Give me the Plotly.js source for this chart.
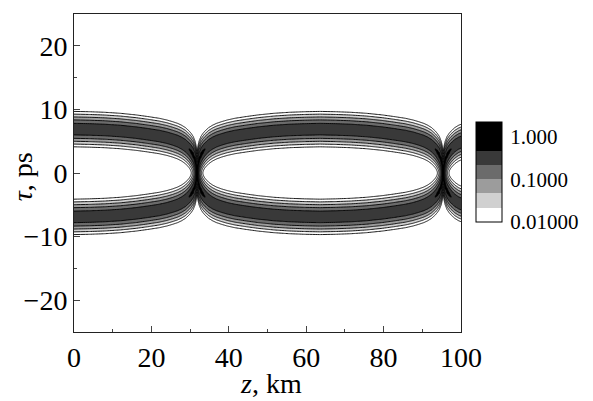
<!DOCTYPE html>
<html><head><meta charset="utf-8">
<script src="https://cdn.plot.ly/plotly-3.0.1.min.js"></script>
<style>html,body{margin:0;padding:0;background:#fff;}#chart{width:593px;height:401px;}</style>
</head><body><div id="chart"></div>
<script>
// Distance along fibre (km) at which the pulse centres were read
const zKm = [0, 4, 8, 12, 16, 19, 22, 24, 25.5, 26.8, 27.8, 28.8, 29.8, 30.3, 30.8, 31.3, 31.55, 31.8,
  32.05, 32.3, 32.8, 33.3, 33.8, 34.8, 35.8, 36.8, 38.1, 39.6, 41.6, 44.6, 47.6, 51.6, 55.6, 59.6, 63.6,
  67.6, 71.6, 75.6, 79.6, 82.6, 85.6, 87.6, 89.1, 90.4, 91.4, 92.4, 93.4, 93.9, 94.4, 94.9, 95.15, 95.4,
  95.65, 95.9, 96.4, 96.9, 97.4, 98.4, 99.4, 100];
// Pulse centre |tau| (ps)
const tauCenter = [6.9, 6.85, 6.76, 6.6, 6.35, 6.1, 5.82, 5.55, 5.28, 5.0, 4.7, 4.3, 3.7, 3.3, 2.8, 2.0, 1.3, 0,
  1.3, 2.0, 2.8, 3.3, 3.7, 4.3, 4.7, 5.0, 5.28, 5.55, 5.82, 6.1, 6.35, 6.6, 6.76, 6.85, 6.9,
  6.85, 6.76, 6.6, 6.35, 6.1, 5.82, 5.55, 5.28, 5.0, 4.7, 4.3, 3.7, 3.3, 2.8, 2.0, 1.3, 0,
  1.3, 2.0, 2.8, 3.3, 3.7, 4.3, 4.7, 4.85];
// Peak intensity of each pulse (estimated from the grey bands)
const peakIntensity = [0.4, 0.4, 0.4, 0.4, 0.4, 0.4, 0.4, 0.4, 0.4, 0.41, 0.42, 0.44, 0.47, 0.5, 0.54, 0.58, 0.6, 0.62,
  0.6, 0.58, 0.54, 0.5, 0.47, 0.44, 0.42, 0.41, 0.4, 0.4, 0.4, 0.4, 0.4, 0.4, 0.4, 0.4, 0.4,
  0.4, 0.4, 0.4, 0.4, 0.4, 0.4, 0.4, 0.4, 0.41, 0.42, 0.44, 0.47, 0.5, 0.54, 0.58, 0.6, 0.62,
  0.6, 0.58, 0.54, 0.5, 0.47, 0.44, 0.42, 0.415];
const pulseWidthPs = 1.1;

const colorbarTickVals = [-2, -1, 0];
const colorbarTickText = ['0.01000', '0.1000', '1.000'];
const greys = ['#ffffff', '#d0d0d0', '#9c9c9c', '#6b6b6b', '#393939', '#000000'];
const xTitle = '<i>z</i>, km';
const yTitle = '<i>τ</i>, ps';

// tau grid
const tau = [];
for (let i = 0; i <= 500; i++) tau.push(-25 + i * 0.1);
const field = tau.map(t => zKm.map((z, j) => {
  const q = tauCenter[j], P = peakIntensity[j];
  const s1 = 1 / Math.cosh((t - q) / pulseWidthPs), s2 = 1 / Math.cosh((t + q) / pulseWidthPs);
  const I = P * (s1 * s1 + s2 * s2);
  return Math.max(Math.log10(I), -8);
}));

const cStart = -2, cSize = 1 / 3, cEnd = 0.34;
const nc = Math.floor((cEnd - cStart) / cSize) + 1;
const dLo = cStart - cSize / 2, dHi = cStart + (nc - 0.5) * cSize;
const f = v => (v - dLo) / (dHi - dLo);
const bounds = [-5 / 3, -4 / 3, -1, -2 / 3, -1 / 3];
function stepScale(fn) {
  const s = [[0, greys[0]]];
  bounds.forEach((b, i) => { s.push([fn(b), greys[i]]); s.push([fn(b), greys[i + 1]]); });
  s.push([1, greys[5]]);
  return s;
}
const contourScale = stepScale(f);
const cbMin = -2, cbMax = 1 / 3;
const barScale = stepScale(v => (v - cbMin) / (cbMax - cbMin));

const font = 'Liberation Serif, Times New Roman, serif';
const traces = [
  {
    type: 'contour', x: zKm, y: tau, z: field,
    contours: {start: cStart, end: cEnd, size: cSize, coloring: 'fill', showlines: true},
    line: {color: '#000', width: 0.9, smoothing: 0},
    colorscale: contourScale, showscale: false, hoverinfo: 'skip'
  },
  {
    type: 'heatmap', x: [200, 201], y: [100, 101], z: [[cbMin, cbMax], [cbMin, cbMax]],
    zmin: cbMin, zmax: cbMax, colorscale: barScale, showscale: true, hoverinfo: 'skip',
    colorbar: {
      x: 1.0388, xanchor: 'left', y: 0.503, yanchor: 'middle',
      thickness: 26, thicknessmode: 'pixels', len: 100, lenmode: 'pixels',
      outlinewidth: 1, outlinecolor: '#000', borderwidth: 0, xpad: 0, ypad: 0,
      tickvals: colorbarTickVals, ticktext: colorbarTickText,
      ticks: 'outside', ticklen: 4, tickcolor: 'rgba(0,0,0,0)',
      tickfont: {family: font, size: 21, color: '#000'}
    }
  }
];

const layout = {
  width: 593, height: 401,
  margin: {l: 74, r: 132, t: 14, b: 69},
  paper_bgcolor: '#fff', plot_bgcolor: '#fff',
  font: {family: font, color: '#000'},
  showlegend: false,
  xaxis: {
    range: [0, 100], tickmode: 'linear', tick0: 0, dtick: 20,
    ticks: 'inside', ticklen: 6, tickwidth: 1, tickcolor: '#444',
    minor: {dtick: 10, ticks: 'inside', ticklen: 3, tickwidth: 1, tickcolor: '#444'},
    showline: true, linecolor: '#222', linewidth: 1, mirror: true,
    showgrid: false, zeroline: false,
    tickfont: {family: font, size: 28, color: '#000'}
  },
  yaxis: {
    range: [-25, 25], tickmode: 'linear', tick0: 0, dtick: 10,
    ticks: 'inside', ticklen: 6, tickwidth: 1, tickcolor: '#444',
    minor: {dtick: 5, ticks: 'inside', ticklen: 3, tickwidth: 1, tickcolor: '#444'},
    showline: true, linecolor: '#222', linewidth: 1, mirror: true,
    showgrid: false, zeroline: false,
    tickfont: {family: font, size: 28, color: '#000'}
  },
  annotations: [
    {text: xTitle, xref: 'paper', yref: 'paper', x: 0.509, y: -0.1635, xanchor: 'center', yanchor: 'middle',
     showarrow: false, font: {family: font, size: 28, color: '#000'}},
    {text: yTitle, xref: 'paper', yref: 'paper', x: -0.1344, y: 0.49, xanchor: 'center', yanchor: 'middle',
     textangle: -90, showarrow: false, font: {family: font, size: 28, color: '#000'}}
  ]
};

Plotly.newPlot('chart', traces, layout, {staticPlot: true, displayModeBar: false});
</script>
</body></html>
